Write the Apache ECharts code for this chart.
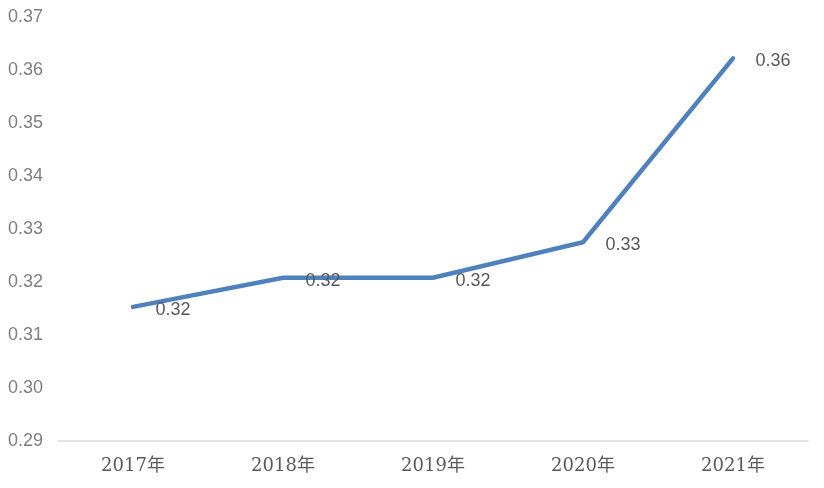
<!DOCTYPE html>
<html>
<head>
<meta charset="utf-8">
<script src="https://cdn.jsdelivr.net/npm/echarts@6/dist/echarts.min.js"></script>
<style>html,body{margin:0;padding:0;background:#fff}#c{width:824px;height:488px}</style>
</head>
<body>
<div id="c"></div>
<script>
const categories = ['2017年', '2018年', '2019年', '2020年', '2021年'];
const values = [0.3153, 0.3208, 0.3208, 0.3275, 0.3622];
const yMin = 0.29, yMax = 0.37, yStep = 0.01;

const chart = echarts.init(document.getElementById('c'), null, {renderer: 'canvas'});
chart.setOption({
  animation: false,
  grid: {left: 58, right: 16, top: 17, bottom: 47, containLabel: false},
  xAxis: {
    type: 'category',
    data: categories,
    boundaryGap: true,
    axisLine: {lineStyle: {color: '#d9d9d9', width: 1.5}},
    axisTick: {show: false},
    axisLabel: {color: '#595959', fontSize: 18, fontFamily: '"DejaVu Serif","Noto Sans CJK SC",serif', margin: 16}
  },
  yAxis: {
    type: 'value',
    min: yMin, max: yMax, interval: yStep,
    splitLine: {show: false},
    axisLine: {show: false},
    axisTick: {show: false},
    axisLabel: {color: '#7f7f7f', fontSize: 18, fontFamily: '"Liberation Sans","Noto Sans",sans-serif', margin: 15,
      formatter: v => v.toFixed(2)}
  },
  series: [{
    type: 'line',
    data: values,
    showSymbol: true,
    symbol: 'circle',
    symbolSize: 1,
    itemStyle: {color: 'rgba(0,0,0,0)'},
    lineStyle: {color: '#4f81bd', width: 4.5, cap: 'round', join: 'miter'},
    label: {
      show: true, position: 'right', distance: 22,
      color: '#595959', fontSize: 18, fontFamily: '"Liberation Sans","Noto Sans",sans-serif',
      formatter: p => p.value.toFixed(2), offset: [0, 3]
    }
  }]
});
</script>
</body>
</html>
